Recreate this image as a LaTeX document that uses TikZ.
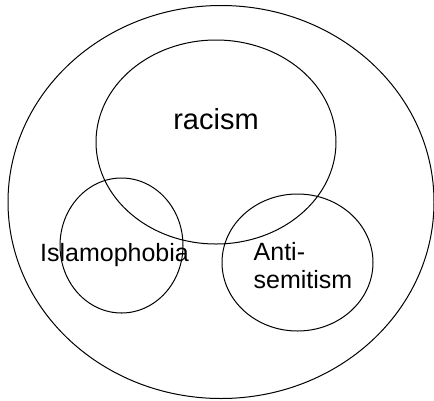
\documentclass[tikz,border=0pt]{standalone}
\usepackage{fontspec}
\setmainfont{Liberation Sans}
\usetikzlibrary{shapes.geometric}
\begin{document}
\begin{tikzpicture}[
  x=1pt, y=-1pt,
  set/.style={draw, ellipse, line width=1pt, inner sep=0pt},
  label/.style={inner sep=0pt, font=\fontsize{25}{28}\selectfont}
]
\useasboundingbox (0,0) rectangle (434,400);
\node[set, minimum width=426pt, minimum height=393pt] (all) at (221,202) {};
\node[set, minimum width=240pt, minimum height=204pt] (rac) at (216,142) {};
\node[set, minimum width=123pt, minimum height=135pt] (isl) at (121.5,245.5) {};
\node[set, minimum width=151pt, minimum height=137pt] (ant) at (297.5,262.5) {};

\node[label, anchor=base, font=\fontsize{29}{34}\selectfont] (racl) at (216,129) {racism};
\node[label, anchor=base] (isll) at (114.5,261) {Islamophobia};
\node[label, align=left] (antl) at (303,266) {Anti-\\semitism};
\end{tikzpicture}
\end{document}
